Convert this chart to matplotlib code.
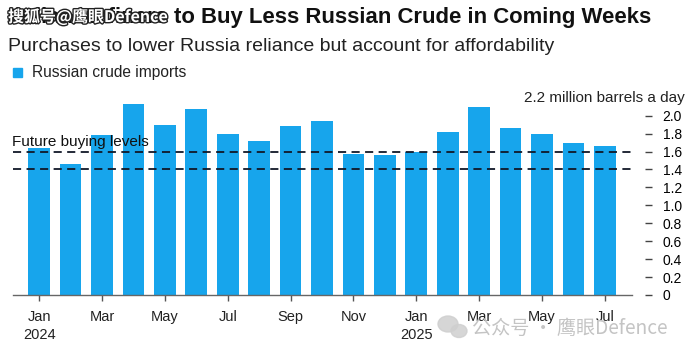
import matplotlib.pyplot as plt
import matplotlib.patheffects as pe
from matplotlib.patches import Ellipse, Rectangle
import numpy as np

# monthly Russian crude imports, Jan 2024 - Jul 2025 (million barrels a day)
months = ["Jan", "Feb", "Mar", "Apr", "May", "Jun", "Jul", "Aug", "Sep", "Oct", "Nov", "Dec",
          "Jan", "Feb", "Mar", "Apr", "May", "Jun", "Jul"]
years = ["2024", "", "", "", "", "", "", "", "", "", "", "",
         "2025", "", "", "", "", "", ""]
imports = [1.64, 1.46, 1.78, 2.13, 1.90, 2.07, 1.79, 1.72, 1.89, 1.94, 1.57, 1.56,
           1.59, 1.82, 2.10, 1.86, 1.80, 1.69, 1.66]
future_levels = [1.6, 1.4]
yticks = [0, 0.2, 0.4, 0.6, 0.8, 1.0, 1.2, 1.4, 1.6, 1.8, 2.0]
ytick_labels = ["0", "0.2", "0.4", "0.6", "0.8", "1.0", "1.2", "1.4", "1.6", "1.8", "2.0"]

blue = "#17a5ec"
cjk = ["Noto Sans CJK SC", "DejaVu Sans"]
plt.rcParams["font.family"] = "Liberation Sans"

fig = plt.figure(figsize=(6.9, 3.56), dpi=100)
ax = fig.add_axes([13 / 690, 61 / 356, 619 / 690, 197.3 / 356])

x = np.arange(len(imports))
ax.bar(x, imports, width=0.69, color=blue, zorder=2)
for lvl in future_levels:
    ax.axhline(lvl, color="#111827", lw=1.3, ls=(0, (4.5, 3)), zorder=3)
ax.text(-0.86, 1.63, "Future buying levels", fontsize=11, color="#111111",
        va="bottom", ha="left", zorder=4)

ax.set_xlim(-0.83, 18.86)
ax.set_ylim(0, 2.2)

# x axis
ax.set_xticks(x[::2])
ax.set_xticklabels([m + ("\n" + y if y else "") for m, y in zip(months[::2], years[::2])],
                   fontsize=10.5, color="#222222", linespacing=1.35)
ax.tick_params(axis="x", length=4, width=1, color="#555555", pad=7)

# y axis on the right, detached from the plot
ax.yaxis.tick_right()
ax.set_yticks(yticks)
ax.set_yticklabels(ytick_labels, fontsize=10.3, color="#222222")
ax.spines["right"].set_position(("outward", 9))
ax.tick_params(axis="y", length=5, width=1, color="#444444", pad=8)
ax.text(1.086, 2.2, "2.2 million barrels a day", transform=ax.get_yaxis_transform(),
        ha="right", va="center", fontsize=11, color="#222222")

for s in ["top", "left", "right"]:
    ax.spines[s].set_visible(False)
ax.spines["bottom"].set_color("#666666")
ax.spines["bottom"].set_linewidth(1)

# titles and legend
fig.text(8 / 690, 1 - 23 / 356, "Indian Refiners to Buy Less Russian Crude in Coming Weeks",
         fontsize=15.9, fontweight="bold", color="#111111", va="baseline")
fig.text(8 / 690, 1 - 51 / 356, "Purchases to lower Russia reliance but account for affordability",
         fontsize=14, color="#222222", va="baseline")
fig.patches.append(Rectangle((13 / 690, 1 - 77 / 356), 9 / 690, 9 / 356,
                             transform=fig.transFigure, color=blue))
fig.text(32 / 690, 1 - 77 / 356, "Russian crude imports", fontsize=11.2,
         color="#222222", va="baseline")

# watermarks
fig.text(8 / 690, 1 - 22 / 356, "搜狐号@鹰眼Defence", family=cjk, fontsize=11.5,
         fontweight="bold", color="white", va="baseline",
         path_effects=[pe.withStroke(linewidth=2, foreground="#222222")])
for cx, cy, w, h in [(448, 324, 20, 16), (459, 331, 16, 13)]:
    fig.patches.append(Ellipse((cx / 690, 1 - cy / 356), w / 690, h / 356,
                               transform=fig.transFigure, color="#cfcfcf", alpha=0.85))
fig.text(472 / 690, 1 - 334 / 356, "公众号 · 鹰眼Defence", family=cjk, fontsize=13.8,
         color="#c4c4c4", va="baseline")

fig.savefig("out.png", dpi=100)
